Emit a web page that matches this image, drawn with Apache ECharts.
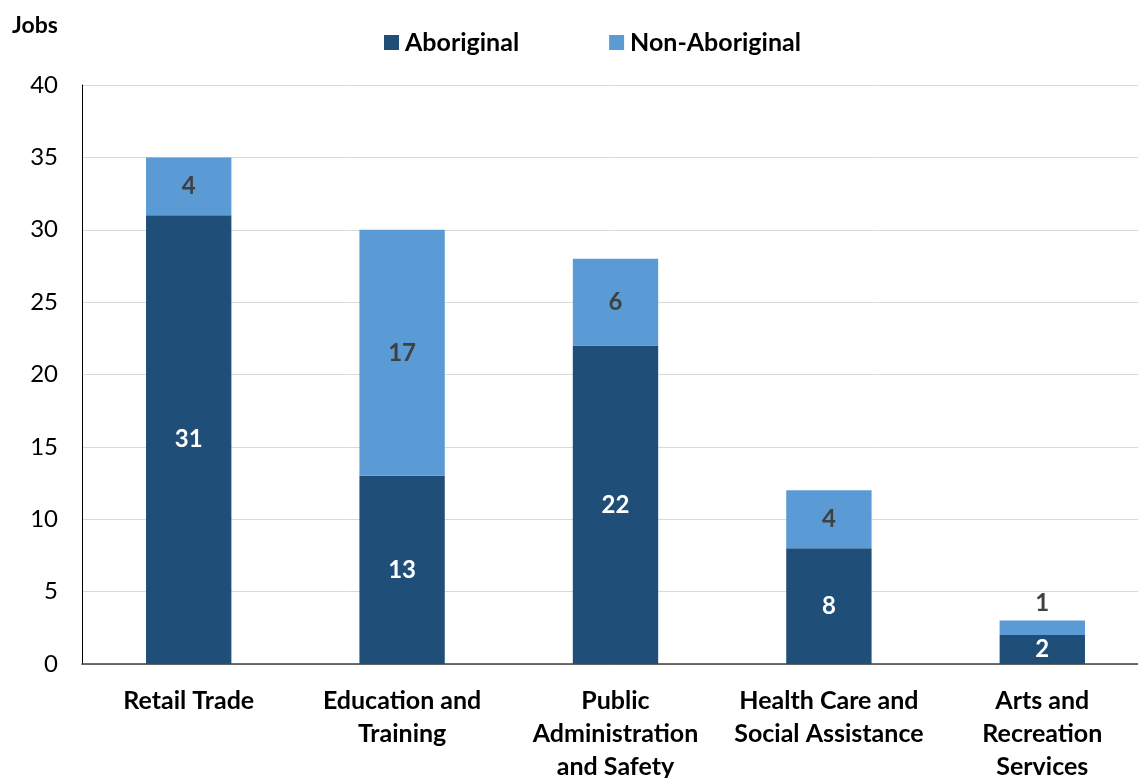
<!DOCTYPE html>
<html><head><meta charset="utf-8">
<script src="https://cdn.jsdelivr.net/npm/echarts@6/dist/echarts.min.js"></script>
<style>html,body{margin:0;padding:0;background:#fff;overflow:hidden;width:1138px;height:778px}#c{width:1138px;height:778px}</style>
</head><body><div id="c"></div>
<script>
const categories = ["Retail Trade", "Education and\nTraining", "Public\nAdministration\nand Safety", "Health Care and\nSocial Assistance", "Arts and\nRecreation\nServices"];
const aboriginal = [31, 13, 22, 8, 2];
const nonAboriginal = [4, 17, 6, 4, 1];
const FONT = "Lato";
const chart = echarts.init(document.getElementById('c'), null, {renderer: 'canvas', width: 1138, height: 778});
const nonData = nonAboriginal.map((v, i) => {
  if (v < 2) return {value: v, label: {position: 'top', distance: 5}};
  return v;
});
chart.setOption({
  animation: false,
  textStyle: {fontFamily: FONT},
  legend: {
    top: 25, left: 379, itemGap: 90, itemWidth: 15, itemHeight: 15, icon: 'rect',
    textStyle: {fontFamily: FONT, fontWeight: 'bold', fontSize: 25, color: '#000', padding: [0, 0, 0, 1]},
    data: ['Aboriginal', 'Non-Aboriginal']
  },
  grid: {left: 82, top: 85, width: 1067, bottom: 114, containLabel: false, outerBoundsMode: 'none'},
  xAxis: {
    type: 'category', data: categories,
    axisLine: {lineStyle: {color: '#404040', width: 1.5}},
    axisTick: {show: false},
    axisLabel: {fontFamily: FONT, fontWeight: 'bold', fontSize: 25, color: '#000', margin: 20, lineHeight: 33, interval: 0}
  },
  yAxis: {
    type: 'value', min: 0, max: 40, interval: 5,
    name: 'Jobs', nameLocation: 'end', nameGap: 0,
    nameTextStyle: {fontFamily: FONT, fontWeight: 'bold', fontSize: 23, color: '#000', align: 'left', padding: [0, 0, 48, -70]},
    axisLine: {show: true, lineStyle: {color: '#000', width: 1}},
    axisTick: {show: false},
    axisLabel: {fontFamily: FONT, fontSize: 24, color: '#000', margin: 24},
    splitLine: {lineStyle: {color: '#d9d9d9', width: 1}}
  },
  series: [
    {
      name: 'Aboriginal', type: 'bar', stack: 'a', data: aboriginal, barWidth: '40%',
      itemStyle: {color: '#1F4E79'},
      label: {show: true, position: 'inside', fontFamily: FONT, fontWeight: 'bold', fontSize: 24, color: '#fff'}
    },
    {
      name: 'Non-Aboriginal', type: 'bar', stack: 'a', data: nonData, barWidth: '40%',
      itemStyle: {color: '#5B9BD5'},
      label: {show: true, position: 'inside', fontFamily: FONT, fontWeight: 'bold', fontSize: 24, color: '#404040'}
    }
  ]
});
</script></body></html>
